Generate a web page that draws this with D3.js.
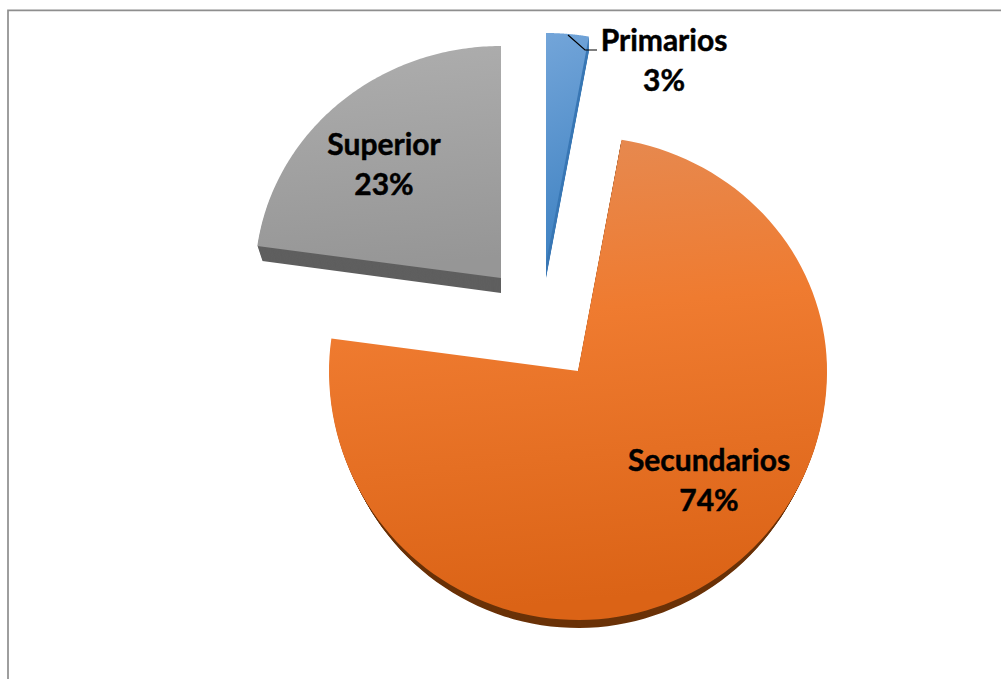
<!DOCTYPE html>
<html>
<head>
<meta charset="utf-8">
<script src="https://cdnjs.cloudflare.com/ajax/libs/d3/7.8.5/d3.min.js"></script>
<style>
html, body { margin: 0; padding: 0; background: #fff; }
svg { display: block; }
text { font-family: Lato, "Open Sans", sans-serif; font-weight: 700; fill: #000; stroke: #000; stroke-width: 0.45px; text-anchor: middle; }
</style>
</head>
<body>
<div id="chart"></div>
<script>
// chart data, labels round these to 3 / 74 / 23
var categories = ['Primarios', 'Secundarios', 'Superior'];
var values = [2.8, 74.4, 22.8];

var svgWidth = 1001;
var svgHeight = 679;

// each slice is pulled out, so it gets its own centre and radii
var sliceShape = [
    {cx: 546, cy: 263, rx: 245, ryTop: 230, ryBottom: 230, depth: 15, shrink: 0},
    {cx: 578, cy: 371, rx: 249, ryTop: 235, ryBottom: 249, depth: 8, shrink: 5},
    {cx: 501, cy: 278, rx: 246, ryTop: 232, ryBottom: 232, depth: 15, shrink: 5}
];
var sliceFill = [
    {top: '#73a5d9', bottom: '#3f82c2', side: '#3a78b5'},
    {top: '#e58b54', bottom: '#db6316', side: '#6a3208'},
    {top: '#aeaeae', bottom: '#969696', side: '#5f5f5f'}
];
var labelPos = [
    {x: 664, y: 51},
    {x: 709, y: 471},
    {x: 384, y: 155}
];

var svg = d3.select('#chart')
    .append('svg')
    .attr('width', svgWidth)
    .attr('height', svgHeight);

// frame, only top and left show in the picture
svg.append('path')
    .attr('d', 'M8,679V10.3H1001')
    .attr('fill', 'none')
    .attr('stroke', '#8e8e8e')
    .attr('stroke-width', 1.7);

var pie = d3.pie().sort(null)(values);

// gradients
var defs = svg.append('defs');
sliceFill.forEach(function(f, i) {
    var grad = defs.append('linearGradient')
        .attr('id', 'grad' + i)
        .attr('x1', 0).attr('y1', 0)
        .attr('x2', 0.1).attr('y2', 1);
    grad.append('stop').attr('offset', '0%').attr('stop-color', f.top);
    if (i == 1) grad.append('stop').attr('offset', '40%').attr('stop-color', '#ef7b30');
    grad.append('stop').attr('offset', '100%').attr('stop-color', f.bottom);
});

// wedge outline, the pie is tilted so upper and lower radii differ
function wedge(d, s, dy, shrink) {
    var steps = d3.range(0, 121).map(function(k) {
        return d.startAngle + (d.endAngle - d.startAngle) * k / 120;
    });
    var pts = steps.map(function(a) {
        var c = Math.cos(a);
        var ry = c > 0 ? s.ryTop : s.ryBottom;
        return [s.cx + (s.rx - shrink) * Math.sin(a), s.cy + dy - ry * c];
    });
    pts.unshift([s.cx, s.cy + dy]);
    return d3.line()(pts) + 'Z';
}

pie.forEach(function(d, i) {
    var s = sliceShape[i];
    // side face: sweep the outline down
    d3.range(s.depth, 0, -1).forEach(function(dy) {
        svg.append('path')
            .attr('d', wedge(d, s, dy, s.shrink * dy / s.depth))
            .attr('fill', sliceFill[i].side);
    });
    svg.append('path')
        .attr('d', wedge(d, s, 0, 0))
        .attr('fill', 'url(#grad' + i + ')');
});

// leader line for Primarios
svg.append('path')
    .attr('d', d3.line()([[568, 35], [585, 50], [597, 50]]))
    .attr('fill', 'none')
    .attr('stroke', '#000')
    .attr('stroke-width', 1.2);

// labels
categories.forEach(function(c, i) {
    var t = svg.append('text')
        .attr('x', labelPos[i].x)
        .attr('y', labelPos[i].y)
        .attr('font-size', 30);
    t.append('tspan').text(c);
    t.append('tspan')
        .attr('x', labelPos[i].x)
        .attr('dy', 40)
        .text(Math.round(values[i]) + '%');
});
</script>
</body>
</html>
